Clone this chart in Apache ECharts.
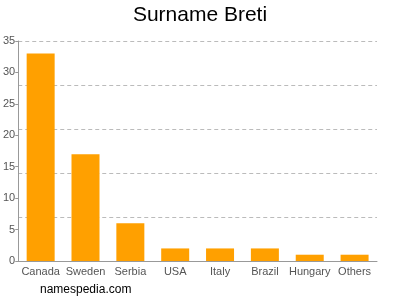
<!DOCTYPE html>
<html><head><meta charset="utf-8">
<script src="https://cdn.jsdelivr.net/npm/echarts@6/dist/echarts.min.js"></script>
<style>html,body{margin:0;padding:0;background:#fff}#c{width:400px;height:300px}</style>
</head><body><div id="c"></div>
<script>
const categories = ["Canada","Sweden","Serbia","USA","Italy","Brazil","Hungary","Others"];
const counts = [33,17,6,2,2,2,1,1];
const yTicks = [0,5,10,15,20,25,30,35];
const chart = echarts.init(document.getElementById('c'), null, {renderer:'canvas'});
const font = 'Liberation Sans, Arial, sans-serif';
chart.setOption({
  animation:false,
  title:[{text:'Surname Breti',left:'center',top:0,textStyle:{fontFamily:font,fontSize:21,fontWeight:'normal',color:'#000'}},
         {text:'namespedia.com',left:35,top:279,textStyle:{fontFamily:font,fontSize:12,fontWeight:'normal',color:'#000'}}],
  grid:{left:17,right:23,top:41,bottom:39,containLabel:false},
  xAxis:{type:'category',data:categories,
    axisLine:{lineStyle:{color:'#999'}},
    axisTick:{alignWithLabel:true,length:4,lineStyle:{color:'#999'}},
    axisLabel:{fontFamily:font,fontSize:11,color:'#555',margin:5,interval:0}},
  yAxis:[{type:'value',min:0,max:35,interval:5,
    axisLine:{show:true,lineStyle:{color:'#999'}},
    axisTick:{show:true,length:3,lineStyle:{color:'#999'}},
    axisLabel:{fontFamily:font,fontSize:11,color:'#555',margin:3,
      formatter:v=>yTicks.includes(v)?String(v):''},
    splitLine:{show:false}},
   {type:'value',min:0,max:35,interval:7,position:'right',
    axisLine:{show:false},axisTick:{show:false},axisLabel:{show:false},
    splitLine:{show:true,lineStyle:{color:'#bbb',type:[4,3]}}}],
  series:[{type:'bar',data:counts,barWidth:28,yAxisIndex:0,
    itemStyle:{color:'#FFA000'}}]
});
</script></body></html>
